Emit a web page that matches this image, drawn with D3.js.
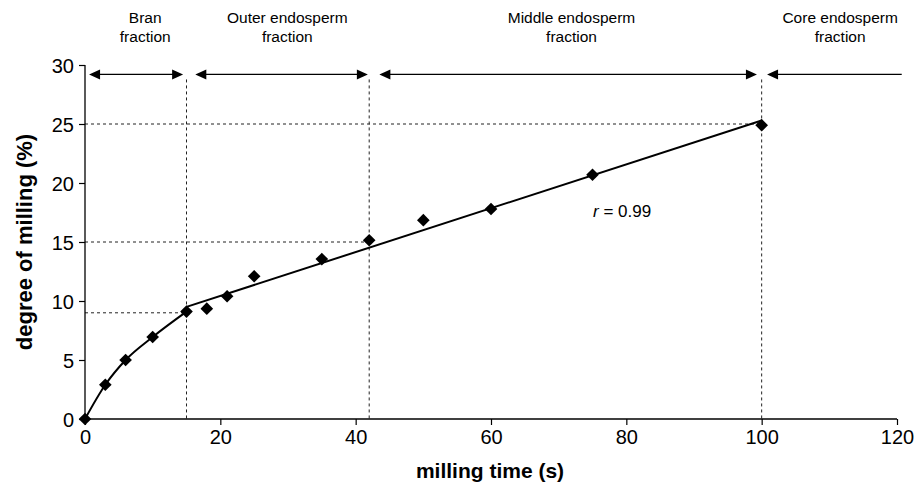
<!DOCTYPE html>
<html>
<head>
<meta charset="utf-8">
<script src="https://cdn.jsdelivr.net/npm/d3@7"></script>
<style>
  body { margin: 0; background: #fff; }
  svg { display: block; font-family: "Liberation Sans", Arial, Helvetica, sans-serif; }
</style>
</head>
<body>
<svg id="chart" width="917" height="484"></svg>
<script>
// ---- data ----
const millingTime = [0, 3, 6, 10, 15, 18, 21, 25, 35, 42, 50, 60, 75, 100];
const degreeOfMilling = [0, 2.9, 5.0, 6.95, 9.1, 9.35, 10.4, 12.1, 13.55, 15.15, 16.85, 17.8, 20.7, 24.9];
// smooth curve through bran-fraction points
const curveTime = [0, 3, 6, 10, 15];
const curveValue = [0, 2.9, 5.0, 6.95, 9.1];
// linear fit (r = 0.99)
const fitTime = [15, 100];
const fitValue = [9.5, 25.3];
const xTicks = [0, 20, 40, 60, 80, 100, 120];
const yTicks = [0, 5, 10, 15, 20, 25, 30];
// fraction boundaries
const boundaryTime = [15, 42, 100];
const boundaryValue = [9.0, 15.0, 25.0];
// arrows
const arrowStart = [0.6, 16.3, 43.5, 100.8];
const arrowEnd = [14.5, 41.8, 99.3, 120.7];
const arrowHeadStart = [true, true, true, true];
const arrowHeadEnd = [true, true, true, false];
const arrowLevel = 29.2;
const fractionNames = [["Bran", "fraction"], ["Outer endosperm", "fraction"], ["Middle endosperm", "fraction"], ["Core endosperm", "fraction"]];
const fractionCenter = [8.9, 29.9, 71.9, 111.6];
const rLabel = "= 0.99";

// ---- layout ----
const svg = d3.select("#chart");
const x = d3.scaleLinear().domain([0, 120]).range([85, 897]);
const y = d3.scaleLinear().domain([0, 30]).range([419, 65]);

// dotted reference lines
const dotted = svg.append("g").attr("stroke", "#222").attr("stroke-width", 1).attr("stroke-dasharray", "3,3").attr("fill", "none");
boundaryTime.forEach((t, i) => {
  dotted.append("line").attr("x1", x(0)).attr("x2", x(t)).attr("y1", y(boundaryValue[i])).attr("y2", y(boundaryValue[i]));
  dotted.append("line").attr("x1", x(t)).attr("x2", x(t)).attr("y1", y(arrowLevel) + 5).attr("y2", y(0));
});

// axes
const xAxis = svg.append("g").attr("transform", `translate(0,${y(0)})`)
  .call(d3.axisBottom(x).tickValues(xTicks).tickSize(6).tickPadding(5).tickFormat(d3.format("d")));
const yAxis = svg.append("g").attr("transform", `translate(${x(0)},0)`)
  .call(d3.axisLeft(y).tickValues(yTicks).tickSize(6).tickPadding(5).tickFormat(d3.format("d")));
[xAxis, yAxis].forEach(a => {
  a.select(".domain").attr("stroke", "#000").attr("stroke-width", 1.3);
  a.selectAll(".tick line").attr("stroke", "#000").attr("stroke-width", 1.2);
  a.selectAll(".tick text").attr("fill", "#000").style("font-size", "20px").style("font-family", "'Liberation Sans', Arial, sans-serif");
});
xAxis.select(".domain").attr("d", `M${x(0)},0H${x(120)}`);
yAxis.select(".domain").attr("d", `M0,${y(0)}V${y(30)}`);
yAxis.selectAll(".tick text").attr("dy", "0.35em");

// curve and fit line
const curvePts = curveTime.map((t, i) => [t, curveValue[i]]);
svg.append("path").datum(curvePts)
  .attr("d", d3.line().x(d => x(d[0])).y(d => y(d[1])).curve(d3.curveMonotoneX))
  .attr("fill", "none").attr("stroke", "#000").attr("stroke-width", 2);
const fitPts = fitTime.map((t, i) => [t, fitValue[i]]);
svg.append("path").datum(fitPts)
  .attr("d", d3.line().x(d => x(d[0])).y(d => y(d[1])))
  .attr("fill", "none").attr("stroke", "#000").attr("stroke-width", 2);

// points (diamonds)
const diamond = d3.symbol().type(d3.symbolSquare).size(80);
svg.append("g").selectAll("path").data(millingTime.map((t, i) => [t, degreeOfMilling[i]])).join("path")
  .attr("d", diamond)
  .attr("transform", d => `translate(${x(d[0])},${y(d[1])}) rotate(45)`)
  .attr("fill", "#000");

// arrows
const ag = svg.append("g");
const ay = y(arrowLevel);
const headL = 11, headW = 5;
arrowStart.forEach((s, i) => {
  const x1 = x(s), x2 = x(arrowEnd[i]);
  ag.append("line").attr("x1", x1 + (arrowHeadStart[i] ? 4 : 0)).attr("x2", x2 - (arrowHeadEnd[i] ? 4 : 0))
    .attr("y1", ay).attr("y2", ay).attr("stroke", "#000").attr("stroke-width", 1.3);
  if (arrowHeadStart[i]) ag.append("path").attr("d", `M${x1},${ay}L${x1 + headL},${ay - headW}L${x1 + headL},${ay + headW}Z`).attr("fill", "#000");
  if (arrowHeadEnd[i]) ag.append("path").attr("d", `M${x2},${ay}L${x2 - headL},${ay - headW}L${x2 - headL},${ay + headW}Z`).attr("fill", "#000");
});

// fraction labels
const lg = svg.append("g").attr("text-anchor", "middle").style("font-size", "15.5px").attr("fill", "#000");
fractionNames.forEach((lines, i) => {
  lines.forEach((t, j) => {
    lg.append("text").attr("x", x(fractionCenter[i])).attr("y", 23 + j * 18.5).text(t);
  });
});

// r label
const rt = svg.append("text").attr("x", 593).attr("y", 217).style("font-size", "17px").attr("fill", "#000");
rt.append("tspan").style("font-style", "italic").text("r");
rt.append("tspan").text(" " + rLabel);

// axis titles
svg.append("text").attr("x", 490).attr("y", 478).attr("text-anchor", "middle")
  .style("font-size", "21px").style("font-weight", "bold").text("milling time (s)");
svg.append("text").attr("transform", `translate(32,${(y(0) + y(30)) / 2}) rotate(-90)`).attr("text-anchor", "middle")
  .style("font-size", "22px").style("font-weight", "bold").text("degree of milling (%)");
</script>
</body>
</html>
